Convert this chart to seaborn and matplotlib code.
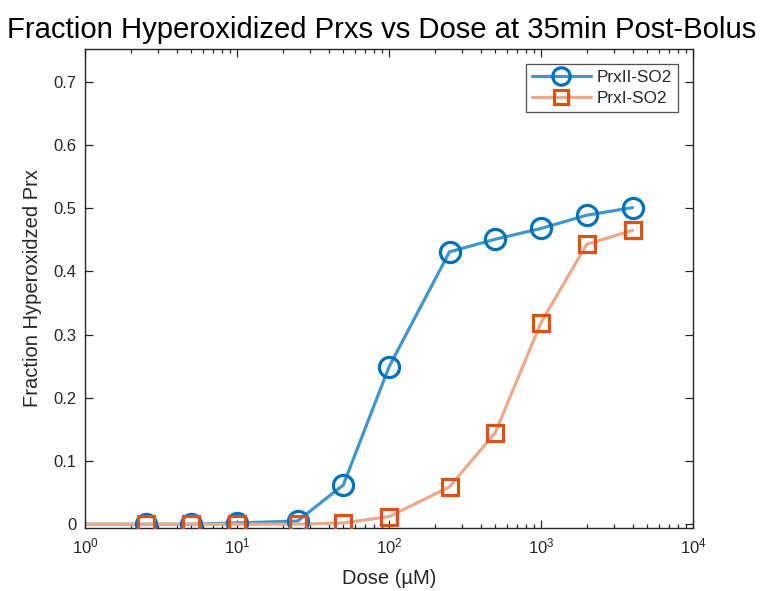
import matplotlib
matplotlib.use("Agg")
import matplotlib.pyplot as plt
from matplotlib.lines import Line2D
from matplotlib.ticker import LogLocator, FixedLocator, FuncFormatter
import numpy as np
import pandas as pd
import seaborn as sns

# Bolus doses (µM); the zero dose is the untreated baseline
dose = [0, 2.5, 5, 10, 25, 50, 100, 250, 500, 1000, 2000, 4000]
prx2_so2 = [0.0, 0.0, 0.0, 0.002, 0.005, 0.062, 0.249, 0.431, 0.451, 0.468, 0.489, 0.501]
prx1_so2 = [0.0, 0.0, 0.0, 0.0, 0.0, 0.002, 0.012, 0.059, 0.145, 0.319, 0.443, 0.465]
series_names = ["PrxII-SO2", "PrxI-SO2"]
y_ticks = [0, 0.1, 0.2, 0.3, 0.4, 0.5, 0.6, 0.7]

sns.set_theme(style="white")
plt.rcParams["font.family"] = ["Liberation Sans", "DejaVu Sans"]
plt.rcParams["mathtext.fontset"] = "custom"
plt.rcParams["mathtext.rm"] = "Liberation Sans"
plt.rcParams["mathtext.it"] = "Liberation Sans:italic"

dark = "#262626"
blue = "#0072BD"
orange = "#D95319"
blue_line = "#4096CE"
orange_line = "#ECA98C"

df = pd.DataFrame({"dose": dose, series_names[0]: prx2_so2, series_names[1]: prx1_so2})

fig = plt.figure(figsize=(7.64, 5.91), dpi=100)
ax = fig.add_axes([0.1113, 0.1066, 0.7958, 0.8105])

styles = [
    (series_names[0], blue, blue_line, "o", 14.5, 12.5),
    (series_names[1], orange, orange_line, "s", 11.5, 10.0),
]
handles = []
for name, mcol, lcol, mk, ms, lms in styles:
    sns.lineplot(data=df, x="dose", y=name, ax=ax, color=lcol, linewidth=2.3,
                 estimator=None, sort=True, legend=False)
    pts = df[df["dose"] > 0]
    ax.plot(pts["dose"], pts[name], linestyle="none", marker=mk, markersize=ms,
            markerfacecolor="none", markeredgecolor=mcol, markeredgewidth=2.3,
            zorder=3)
    handles.append(Line2D([], [], color=lcol, linewidth=2.3, marker=mk,
                          markersize=lms, markerfacecolor="none",
                          markeredgecolor=mcol, markeredgewidth=2.3, label=name))

ax.set_xscale("log", nonpositive="clip")
ax.set_xlim(1, 1e4)
ax.set_ylim(-0.006, 0.752)
ax.xaxis.set_major_locator(LogLocator(base=10, numticks=10))
ax.xaxis.set_minor_locator(LogLocator(base=10, subs=np.arange(2, 10), numticks=10))
ax.yaxis.set_major_locator(FixedLocator(y_ticks))
ax.yaxis.set_major_formatter(FuncFormatter(lambda v, p: f"{v:g}"))

for s in ax.spines.values():
    s.set_visible(True)
    s.set_color(dark)
    s.set_linewidth(1.0)

ax.tick_params(which="both", direction="in", top=True, right=True,
               bottom=True, left=True, color=dark, width=0.9)
ax.tick_params(which="major", length=5.5, labelsize=12, labelcolor=dark, pad=6)
ax.tick_params(which="minor", length=3)

ax.set_xlabel("Dose (µM)", fontsize=14.5, color=dark, labelpad=9)
ax.set_ylabel("Fraction Hyperoxidzed Prx", fontsize=14.5, color=dark, labelpad=8)
fig.text(0.5, 1 - 38 / 591, "Fraction Hyperoxidized Prxs vs Dose at 35min Post-Bolus",
         ha="center", va="baseline", fontsize=21.1, color="black")

leg = ax.legend(handles=handles, loc="upper right", bbox_to_anchor=(0.975, 0.969),
                borderaxespad=0, fontsize=12.3, handlelength=3.45, handletextpad=0.35,
                borderpad=0.35, labelspacing=0.35, frameon=True, fancybox=False)
leg.get_frame().set_edgecolor(dark)
leg.get_frame().set_linewidth(0.9)
for t in leg.get_texts():
    t.set_color(dark)

ax.grid(False)
fig.savefig("out.png", dpi=100, facecolor="white")
